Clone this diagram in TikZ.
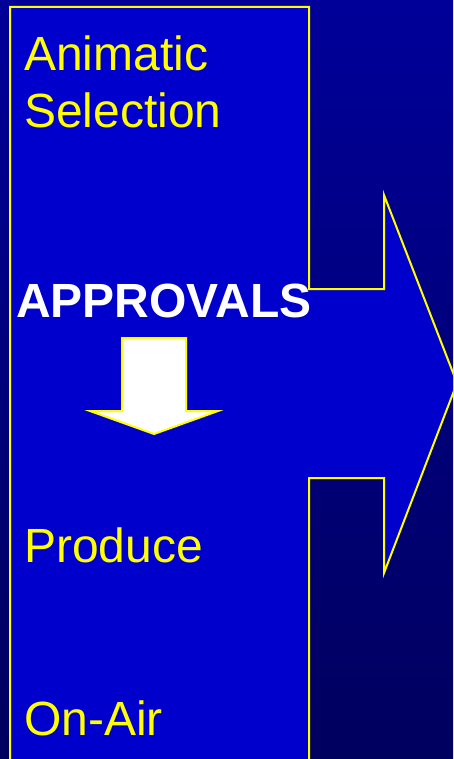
\documentclass[tikz,border=0pt]{standalone}
\usepackage{fontspec}
\setmainfont{Liberation Sans}
\definecolor{BackTopClr}{RGB}{0,0,153}
\definecolor{BackBotClr}{RGB}{0,0,94}
\definecolor{ShapeClr}{RGB}{0,0,204}
\definecolor{LineClr}{RGB}{255,255,0}

\begin{document}
\begin{tikzpicture}[x=1pt,y=-1pt,
  outline/.style={draw=LineClr,line width=2pt,line join=miter},
  label/.style={text=LineClr,font=\fontsize{48}{57}\selectfont,inner sep=0pt,anchor=base west,align=left}]
\useasboundingbox (0,0) rectangle (453,759);
\shade[top color=BackTopClr,bottom color=BackBotClr] (0,0) rectangle (453,759);

\coordinate (TL) at (10,7);
\coordinate (TR) at (309,7);
\coordinate (ST) at (309,289);
\coordinate (HT) at (384,289);
\coordinate (HU) at (384,195);
\coordinate (TIP) at (457,383);
\coordinate (HD) at (384,573);
\coordinate (HB) at (384,478);
\coordinate (SB) at (309,478);
\coordinate (BR) at (309,765);
\coordinate (BL) at (10,765);

\begin{scope}
\clip (0,0) rectangle (453,759);
\draw[outline,fill=ShapeClr] (TL) -- (TR) -- (ST) -- (HT) -- (HU) -- (TIP) -- (HD) -- (HB) -- (SB) -- (BR) -- (BL) -- cycle;
\end{scope}

\coordinate (DA) at (122,338);
\coordinate (DB) at (186,338);
\coordinate (DC) at (186,411);
\coordinate (DD) at (218,411);
\coordinate (DE) at (154,434);
\coordinate (DF) at (90,411);
\coordinate (DG) at (122,411);
\draw[outline,fill=white] (DA) -- (DB) -- (DC) -- (DD) -- (DE) -- (DF) -- (DG) -- cycle;

\node[label] (selection) at (24,128) {Animatic\\Selection};
\node[inner sep=0pt,anchor=base west,text=white,font=\fontsize{48}{58}\bfseries\selectfont] (approvals) at (16,317) {APPROVALS};
\node[label] (produce) at (24,562) {Produce};
\node[label] (onair) at (24,735) {On-Air};

\end{tikzpicture}
\end{document}
